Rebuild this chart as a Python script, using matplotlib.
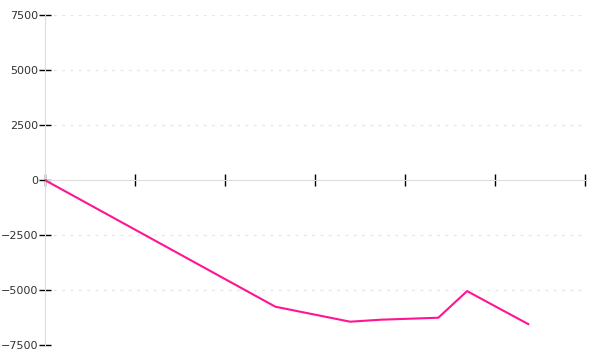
import numpy as np
import matplotlib
matplotlib.use("Agg")
import matplotlib.pyplot as plt


# values
x_vals = [0.0, 2.56, 3.39, 3.73, 4.37, 4.69, 5.02, 5.37]
y_vals = [0, -5750, -6430, -6340, -6250, -5040, -5770, -6540]

y_ticks = [-7500, -5000, -2500, 0, 2500, 5000, 7500]
x_ticks = [0, 1, 2, 3, 4, 5, 6]


def main():
    fig = plt.figure(figsize=(6, 3.6), dpi=100)
    ax = fig.add_axes([0.075, 0.041, 0.9, 0.917])

    # dotted grid lines, not at zero
    for t in y_ticks:
        if t != 0:
            ax.axhline(t, color='#e6e6e6', linestyle=(0, (2, 4)), linewidth=1, zorder=0)

    ax.plot(x_vals, y_vals, color='#ff1493', linewidth=1.5, zorder=3)

    ax.set_xlim(0, 6)
    ax.set_ylim(-7500, 7500)

    ax.spines['top'].set_visible(False)
    ax.spines['right'].set_visible(False)
    ax.spines['left'].set_color('#dddddd')
    ax.spines['bottom'].set_position(('data', 0))
    ax.spines['bottom'].set_color('#dddddd')

    ax.set_yticks(y_ticks)
    ax.set_yticklabels([str(t).replace('-', '\u2212') for t in y_ticks])
    ax.set_xticks(x_ticks)
    ax.set_xticklabels([])

    ax.tick_params(axis='y', direction='inout', length=8, width=1, color='black',
                   labelsize=8, labelcolor='#333333', pad=1)
    ax.tick_params(axis='x', direction='inout', length=9, width=1, color='black')

    fig.savefig("out.png", dpi=100)
    plt.close(fig)


main()
